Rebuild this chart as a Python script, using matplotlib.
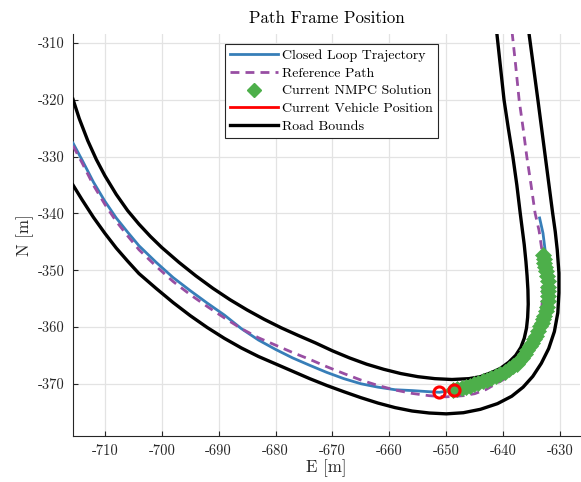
import matplotlib
matplotlib.use("Agg")
import matplotlib.pyplot as plt
from matplotlib.lines import Line2D

plt.rcParams['font.family'] = ['cmr10', 'DejaVu Serif']
plt.rcParams['axes.unicode_minus'] = False
plt.rcParams['axes.formatter.use_mathtext'] = False

# ---- data (E, N in metres) ----
road_outer_E = [-715.6, -714, -712, -710, -708, -706, -704, -701, -698, -695, -692, -689,
                -686, -683, -680, -677, -674, -671, -668, -665, -662, -659, -656, -653,
                -650, -647, -644, -641, -638.5, -636.5, -634.8, -633.3, -632.0, -631.0,
                -630.4, -630.2, -630.2, -630.5, -630.85, -631.3, -631.95, -632.6, -633.25,
                -633.9, -634.7, -635.45, -635.75]
road_outer_N = [-335.0, -337.6, -340.7, -343.5, -346.1, -348.4, -350.6, -353.2, -355.7,
                -358.0, -360.1, -362.0, -363.7, -365.2, -366.5, -367.8, -369.1, -370.3,
                -371.4, -372.45, -373.4, -374.2, -374.8, -375.15, -375.3, -375.1, -374.5,
                -373.5, -372.2, -370.6, -368.7, -366.4, -363.8, -360.8, -357.5, -354.0,
                -350.5, -346.4, -343.2, -340.0, -335.0, -330.0, -325.0, -320.0, -314.0,
                -308.4, -305.0]

road_inner_E = [-715.6, -714.5, -713, -711.5, -710, -708, -706, -704, -702, -700, -697,
                -694, -691, -688, -685, -682, -679, -676, -673, -670, -667, -664, -661,
                -658, -655, -652, -649, -646, -644, -642, -640.5, -639, -637.8, -636.9,
                -636.3, -635.9, -635.7, -635.6, -635.65, -635.8, -636.0, -636.3, -637.0,
                -637.6, -638.3, -639.1, -639.85, -640.5, -641.1, -641.4]
road_inner_N = [-319.9, -323.3, -327.2, -330.5, -333.35, -336.65, -339.5, -341.9, -344.05,
                -346.0, -348.6, -351.0, -353.2, -355.2, -357.0, -358.65, -360.15, -361.5,
                -362.8, -364.2, -365.45, -366.55, -367.45, -368.2, -368.75, -369.1, -369.25,
                -369.1, -368.75, -368.0, -367.3, -366.2, -365.0, -363.6, -362.0, -360.2,
                -358.3, -356.0, -353.5, -351.0, -348.5, -345.5, -340.0, -335.0, -330.0,
                -325.0, -320.0, -314.0, -308.4, -305.0]

ref_E = [-715.6, -714, -712, -710, -708, -706, -704, -701, -698, -695, -692, -689, -686,
         -683, -680, -677, -674, -671, -668, -665, -662, -659, -656, -653, -650, -647, -645,
         -643, -641.1, -639.5, -637.6, -636.0, -634.8, -634.0, -633.5, -633.2, -633.0,
         -632.9, -633.2, -633.7, -634.4, -635.1, -635.85, -636.5, -637.2, -637.8, -638.4,
         -638.7]
ref_N = [-328.1, -331.1, -335.05, -338.4, -341.4, -343.95, -346.4, -349.3, -352.0, -354.3,
         -356.4, -358.4, -360.3, -361.9, -363.2, -364.5, -365.7, -367.0, -368.2, -369.35,
         -370.3, -371.1, -371.7, -372.1, -372.3, -372.1, -371.75, -371.0, -369.9, -369.0,
         -367.5, -365.6, -363.3, -361.0, -358.6, -356.4, -353.4, -349.9, -346.4, -343.0,
         -339.9, -335.0, -330.0, -325.0, -320.0, -314.0, -308.4, -305.0]

traj_E = [-715.6, -714, -712, -710, -708, -706, -704, -701, -698, -695, -692, -689, -686,
          -683, -680, -677, -674, -671, -668, -665, -662, -659, -656, -653, -651.2, -648.6,
          -645.8, -642.9, -640.55, -638.2, -636.7, -635.3, -634.2, -633.5, -632.8, -632.3,
          -632.1, -632.1, -632.3, -632.5, -632.64, -633.0, -633.6]
traj_N = [-327.6, -330.6, -334.5, -337.85, -340.8, -343.3, -345.7, -348.6, -351.3, -353.6,
          -355.8, -357.9, -360.3, -362.3, -363.95, -365.45, -366.75, -368.0, -369.1, -370.0,
          -370.6, -371.05, -371.2, -371.4, -371.5, -371.1, -370.35, -369.3, -368.25, -366.95,
          -365.4, -363.4, -361.55, -359.9, -358.0, -356.4, -354.5, -352.9, -351.0, -349.3,
          -346.4, -343.5, -340.8]

nmpc_E = [-648.8, -648.05, -647.3, -646.55, -645.8, -645.1, -644.35, -643.6, -642.9, -642.1,
          -641.3, -640.55, -639.75, -638.95, -638.2, -637.6, -637.15, -636.7, -636.2, -635.75,
          -635.3, -634.9, -634.55, -634.2, -633.85, -633.5, -633.25, -633.0, -632.8, -632.55,
          -632.3, -632.2, -632.1, -632.1, -632.1, -632.2, -632.3, -632.45, -632.6, -632.75,
          -632.85, -632.95]
nmpc_N = [-371.06, -370.9, -370.7, -370.5, -370.35, -370.1, -369.85, -369.55, -369.3, -368.95,
          -368.6, -368.25, -367.85, -367.4, -366.95, -366.45, -365.95, -365.4, -364.75, -364.1,
          -363.4, -362.8, -362.2, -361.55, -360.7, -359.9, -359.25, -358.6, -358.0, -357.2,
          -356.4, -355.45, -354.5, -353.7, -352.9, -351.95, -351.0, -350.2, -349.35, -348.65,
          -348.0, -347.3]

vehicle_E = [-651.2, -648.6]
vehicle_N = [-371.5, -371.1]

legend_labels = ["Closed Loop Trajectory", "Reference Path", "Current NMPC Solution",
                 "Current Vehicle Position", "Road Bounds"]

c_blue = '#377eb8'
c_purple = '#984ea3'
c_green = '#4daf4a'
c_red = '#ff0000'
c_axis = '#262626'

fig = plt.figure(figsize=(5.81, 4.82), dpi=100)
ax = fig.add_axes([73/581, 1-436/482, 507/581, 402/482])

ax.plot(road_outer_E, road_outer_N, color='k', lw=2.4, zorder=3)
ax.plot(road_inner_E, road_inner_N, color='k', lw=2.4, zorder=3)
ax.plot(traj_E, traj_N, color=c_blue, lw=2.0, zorder=4)
ax.plot(ref_E, ref_N, color=c_purple, lw=2.0, dashes=(3.2, 2.2), zorder=5)
ax.plot(nmpc_E, nmpc_N, 'D', color=c_green, ms=8.5, mec=c_green, mew=0.5, zorder=6)
ax.plot(vehicle_E, vehicle_N, 'o', ms=8, mfc='none', mec=c_red, mew=2.2, zorder=7)

ax.set_xlim(-715.6, -626.5)
ax.set_ylim(-379.2, -308.4)
ax.set_xticks(range(-710, -625, 10))
ax.set_yticks(range(-370, -305, 10))
ax.grid(True, color='#e3e3e3', lw=0.9)
ax.set_axisbelow(True)
for s in ['top', 'right']:
    ax.spines[s].set_visible(False)
for s in ['left', 'bottom']:
    ax.spines[s].set_color(c_axis)
    ax.spines[s].set_linewidth(0.8)
ax.tick_params(direction='in', length=3.5, width=0.8, color=c_axis, labelcolor=c_axis,
               labelsize=10.5, pad=6)

ax.set_title("Path Frame Position", fontsize=12.2, color='k', pad=8)
ax.set_xlabel("E [m]", fontsize=12.2, color=c_axis, labelpad=1)
ax.set_ylabel("N [m]", fontsize=12.2, color=c_axis, labelpad=3)

handles = [
    Line2D([], [], color=c_blue, lw=2.0),
    Line2D([], [], color=c_purple, lw=2.0, dashes=(3.2, 2.2)),
    Line2D([], [], ls='none', marker='D', color=c_green, ms=7.5),
    Line2D([], [], color=c_red, lw=2.0),
    Line2D([], [], color='k', lw=2.4),
]
leg = ax.legend(handles, legend_labels, loc='upper left',
                bbox_to_anchor=((225-73)/507, (436-44)/402), fontsize=10.0,
                fancybox=False, framealpha=1, edgecolor=c_axis, borderpad=0.38,
                labelspacing=0.36, handlelength=3.4, handletextpad=0.3,
                borderaxespad=0)
leg.get_frame().set_linewidth(0.8)

fig.savefig("out.png", dpi=100)
